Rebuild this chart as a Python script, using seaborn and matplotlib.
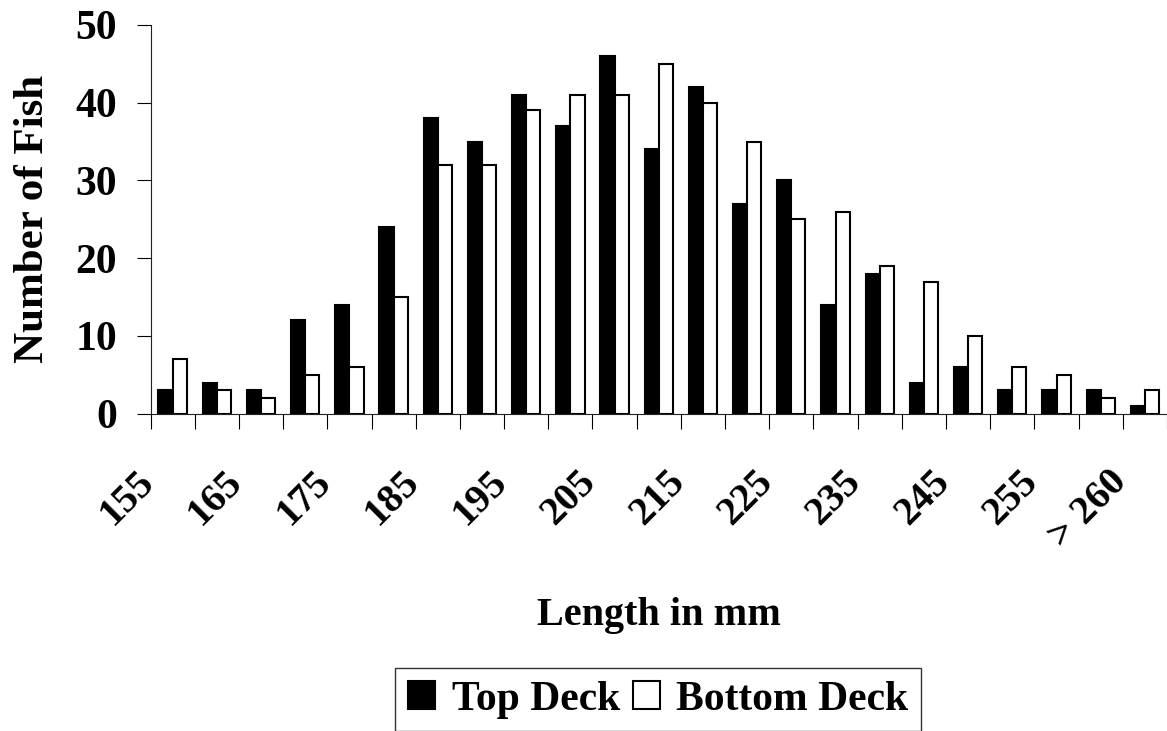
import numpy as np
import pandas as pd
import matplotlib
matplotlib.use("Agg")
import matplotlib.pyplot as plt
import matplotlib.transforms as mtransforms
import seaborn as sns

# length bins (mm) and fish counts per deck
lengths = ["155", "160", "165", "170", "175", "180", "185", "190", "195", "200",
           "205", "210", "215", "220", "225", "230", "235", "240", "245", "250",
           "255", "260", "> 260"]
top_deck = [3, 4, 3, 12, 14, 24, 38, 35, 41, 37, 46, 34, 42, 27, 30, 14, 18, 4, 6, 3, 3, 3, 1]
bottom_deck = [7, 3, 2, 5, 6, 15, 32, 32, 39, 41, 41, 45, 40, 35, 25, 26, 19, 17, 10, 6, 5, 2, 3]

df = pd.DataFrame({
    "length": lengths * 2,
    "count": top_deck + bottom_deck,
    "deck": ["Top Deck"] * len(lengths) + ["Bottom Deck"] * len(lengths),
})

sns.set_style("ticks")
plt.rcParams["font.family"] = ["Liberation Serif", "DejaVu Serif"]
plt.rcParams["font.weight"] = "bold"
for k in ["text.color", "axes.labelcolor", "xtick.color", "ytick.color"]:
    plt.rcParams[k] = "black"

fig = plt.figure(figsize=(11.67, 7.31), dpi=100)
ax = fig.add_axes([0.129, 0.434, 0.871, 0.532])

sns.barplot(data=df, x="length", y="count", hue="deck", order=lengths,
            palette=["black", "white"], edgecolor="black", linewidth=1.5,
            width=0.64, gap=0, legend=True, ax=ax)

fs = 29
ax.set_xlim(-0.5, len(lengths) - 0.5)
ax.set_ylim(0, 50)
ax.set_yticks([0, 10, 20, 30, 40, 50])
ax.tick_params(axis="y", direction="out", length=10, width=0.8, pad=14, labelsize=30)
for t in ax.get_yticklabels():
    t.set_fontweight("bold")

# labels on every other category, tick marks between categories
ax.set_xticks(range(0, len(lengths), 2))
ax.set_xticklabels(lengths[::2], rotation=45, ha="right", va="center",
                   rotation_mode="anchor", fontsize=fs, fontweight="bold")
ax.set_xticks(np.arange(-0.5, len(lengths), 1), minor=True)
ax.tick_params(axis="x", which="major", length=0, pad=28)
ax.tick_params(axis="x", which="minor", direction="out", length=11, width=0.8)
shift = mtransforms.ScaledTranslation(-0.24, -0.24, fig.dpi_scale_trans)
for t in ax.get_xticklabels():
    t.set_transform(t.get_transform() + shift)

for s in ["top", "right"]:
    ax.spines[s].set_visible(False)
for s in ["left", "bottom"]:
    ax.spines[s].set_linewidth(0.8)
    ax.spines[s].set_color("#222222")

ax.set_ylabel("Number of Fish", fontsize=31, fontweight="bold", labelpad=17)
ax.set_xlabel("Length in mm", fontsize=fs, fontweight="bold", labelpad=30)

handles, labels = ax.get_legend_handles_labels()
ax.get_legend().remove()
leg = fig.legend(handles, labels, loc="upper center", bbox_to_anchor=(0.564, 0.086),
                 ncol=2, frameon=True, fancybox=False, edgecolor="black",
                 prop={"size": 30, "weight": "bold"}, handlelength=0.65,
                 handleheight=0.65, handletextpad=0.4, columnspacing=0.3,
                 borderpad=0.3, borderaxespad=0)
leg.get_frame().set_linewidth(1.0)

fig.savefig("out.png", dpi=100)
